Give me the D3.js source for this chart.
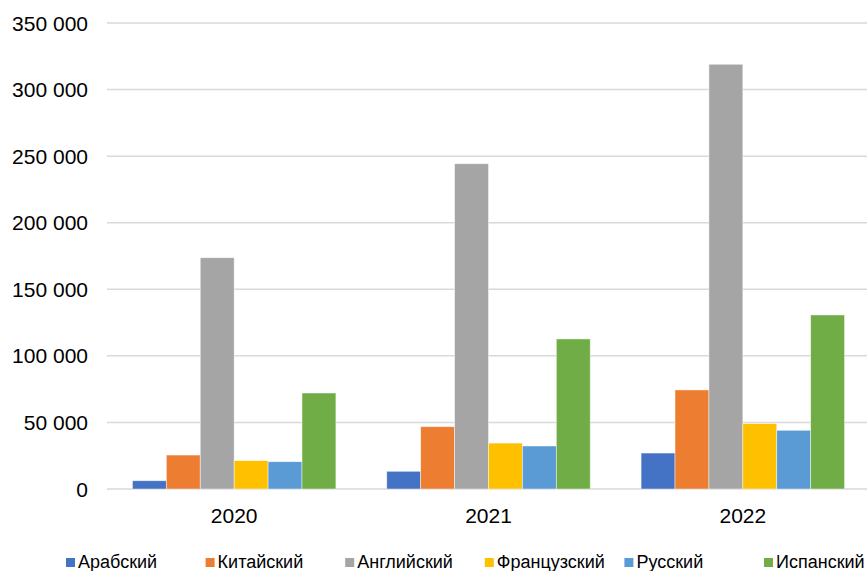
<!DOCTYPE html>
<html>
<head>
<meta charset="utf-8">
<script src="https://cdn.jsdelivr.net/npm/d3@7"></script>
<style>
  body { margin: 0; background: #fff; }
  svg { display: block; }
</style>
</head>
<body>
<div id="chart"></div>
<script>
// Годы (категории оси X)
const years = ["2020", "2021", "2022"];

// Языки (серии)
const languages = ["Арабский", "Китайский", "Английский", "Французский", "Русский", "Испанский"];

// Значения по языкам, по годам
const arabic  = [6200, 13300, 27000];
const chinese = [25500, 46800, 74400];
const english = [173700, 244300, 319000];
const french  = [21300, 34500, 49100];
const russian = [20500, 32300, 44100];
const spanish = [72100, 112700, 130700];

const seriesValues = [arabic, chinese, english, french, russian, spanish];

// Деления оси Y
const yTicks = [0, 50000, 100000, 150000, 200000, 250000, 300000, 350000];

const colors = ["#4472C4", "#ED7D31", "#A5A5A5", "#FFC000", "#5B9BD5", "#70AD47"];

const width = 867;
const height = 571;
const plotLeft = 107;
const plotRight = 870;
const plotTop = 23;
const plotBottom = 489;

const svg = d3.select("#chart")
    .append("svg")
    .attr("width", width)
    .attr("height", height);

// Шкалы
const x0 = d3.scaleBand()
    .domain(years)
    .range([plotLeft, plotRight])
    .padding(0);

const x1 = d3.scaleBand()
    .domain(languages)
    .range([0, x0.bandwidth()])
    .paddingInner(0)
    .paddingOuter(0.75);

const y = d3.scaleLinear()
    .domain([0, 350000])
    .range([plotBottom, plotTop]);

const color = d3.scaleOrdinal()
    .domain(languages)
    .range(colors);

// Формат чисел: пробел как разделитель тысяч
const fmt = v => d3.format(",")(v).replace(/,/g, " ");

// Линии сетки
svg.append("g")
    .selectAll("line")
    .data(yTicks)
    .enter().append("line")
    .attr("x1", plotLeft)
    .attr("x2", width)
    .attr("y1", d => y(d))
    .attr("y2", d => y(d))
    .attr("stroke", "#d9d9d9")
    .attr("stroke-width", 1.5);

// Подписи оси Y
svg.append("g")
    .selectAll("text")
    .data(yTicks)
    .enter().append("text")
    .attr("x", 88)
    .attr("y", d => y(d))
    .attr("dy", "0.36em")
    .attr("text-anchor", "end")
    .style("font-family", "'Liberation Sans', Arial, sans-serif")
    .style("font-size", "21px")
    .attr("fill", "#000")
    .text(d => fmt(d));

// Данные для столбцов
const bars = [];
years.forEach((yr, i) => {
    languages.forEach((lang, j) => {
        bars.push({ year: yr, lang: lang, value: seriesValues[j][i] });
    });
});

// Столбцы
svg.append("g")
    .selectAll("rect")
    .data(bars)
    .enter().append("rect")
    .attr("x", d => x0(d.year) + x1(d.lang))
    .attr("y", d => y(d.value))
    .attr("width", x1.bandwidth())
    .attr("height", d => plotBottom - y(d.value))
    .attr("fill", d => color(d.lang))
    .attr("stroke", "#fff")
    .attr("stroke-opacity", 0.6)
    .attr("stroke-width", 0.75);

// Подписи оси X
svg.append("g")
    .selectAll("text")
    .data(years)
    .enter().append("text")
    .attr("x", d => x0(d) + x0.bandwidth() / 2)
    .attr("y", 522.5)
    .attr("text-anchor", "middle")
    .style("font-family", "'Liberation Sans', Arial, sans-serif")
    .style("font-size", "21px")
    .attr("fill", "#000")
    .text(d => d);

// Легенда
const legendX = d3.scalePoint()
    .domain(languages)
    .range([66, 764]);

const legend = svg.append("g")
    .selectAll("g")
    .data(languages)
    .enter().append("g")
    .attr("transform", d => `translate(${legendX(d)},558)`);

legend.append("rect")
    .attr("width", 9)
    .attr("height", 9)
    .attr("fill", d => color(d));

legend.append("text")
    .attr("x", 12)
    .attr("y", 10)
    .style("font-family", "'Liberation Sans', Arial, sans-serif")
    .style("font-size", "18px")
    .attr("fill", "#000")
    .text(d => d);
</script>
</body>
</html>
